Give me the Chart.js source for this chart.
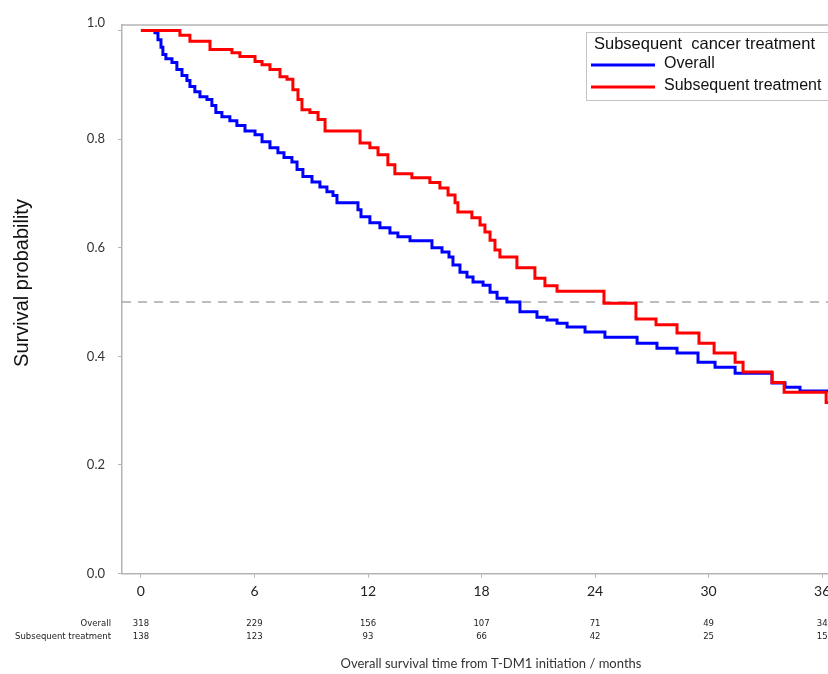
<!DOCTYPE html>
<html>
<head>
<meta charset="utf-8">
<script src="https://cdn.jsdelivr.net/npm/chart.js@4"></script>
<style>
  html, body { margin: 0; padding: 0; background: #fff; overflow: hidden; }
  canvas { display: block; }
</style>
</head>
<body>
<canvas id="km" width="860" height="674"></canvas>
<script>
// Kaplan-Meier steps: time of drop (months) and survival after the drop
const overallTimes = [0, 0.74, 0.90, 1.06, 1.16, 1.32, 1.64, 1.90, 2.17, 2.43, 2.59, 2.85, 3.12, 3.49, 3.75, 3.96, 4.28, 4.70, 5.07, 5.50, 6.03, 6.40, 6.82, 7.24, 7.56, 7.98, 8.25, 8.56, 9.04, 9.46, 9.83, 10.15, 10.36, 11.47, 11.63, 12.10, 12.63, 13.16, 13.58, 14.22, 15.38, 15.91, 16.28, 16.49, 16.86, 17.23, 17.55, 18.08, 18.45, 18.82, 19.34, 20.03, 20.93, 21.46, 21.99, 22.52, 23.47, 24.52, 26.22, 27.27, 28.33, 29.44, 30.34, 31.40, 33.35, 34.04, 34.83, 38];
const overallSurv = [1.0, 0.996, 0.983, 0.969, 0.956, 0.948, 0.941, 0.928, 0.917, 0.908, 0.897, 0.887, 0.878, 0.873, 0.862, 0.849, 0.841, 0.834, 0.825, 0.815, 0.808, 0.795, 0.784, 0.775, 0.766, 0.758, 0.744, 0.731, 0.721, 0.712, 0.703, 0.696, 0.683, 0.670, 0.657, 0.646, 0.637, 0.627, 0.620, 0.613, 0.600, 0.592, 0.583, 0.568, 0.555, 0.546, 0.537, 0.531, 0.518, 0.507, 0.500, 0.482, 0.472, 0.467, 0.461, 0.454, 0.445, 0.435, 0.424, 0.415, 0.406, 0.389, 0.380, 0.369, 0.351, 0.343, 0.336, 0.336];

const subsequentTimes = [0, 2.06, 2.59, 3.65, 4.81, 5.23, 6.03, 6.40, 6.82, 7.35, 7.72, 8.03, 8.30, 8.51, 8.93, 9.36, 9.73, 11.58, 12.10, 12.53, 13.05, 13.42, 14.32, 15.27, 15.80, 16.23, 16.60, 16.75, 17.49, 17.92, 18.18, 18.45, 18.71, 18.97, 19.87, 20.82, 21.35, 21.99, 24.47, 26.16, 27.22, 28.33, 29.49, 30.29, 31.40, 31.82, 33.35, 33.99, 36.21, 38];
const subsequentSurv = [1.0, 0.991, 0.980, 0.965, 0.959, 0.952, 0.943, 0.937, 0.928, 0.915, 0.910, 0.891, 0.873, 0.854, 0.849, 0.836, 0.815, 0.793, 0.784, 0.771, 0.753, 0.736, 0.729, 0.720, 0.710, 0.697, 0.683, 0.666, 0.655, 0.642, 0.629, 0.614, 0.596, 0.583, 0.563, 0.544, 0.530, 0.520, 0.498, 0.469, 0.458, 0.443, 0.424, 0.406, 0.389, 0.371, 0.352, 0.334, 0.315, 0.315];

const xTicks = [0, 6, 12, 18, 24, 30, 36];
const yTicks = [0, 0.2, 0.4, 0.6, 0.8, 1.0];
const medianLevel = 0.5;

const riskRows = ["Overall", "Subsequent treatment"];
const atRiskOverall = [318, 229, 156, 107, 71, 49, 34];
const atRiskSubsequent = [138, 123, 93, 66, 42, 25, 15];

function toPoints(times, surv) {
    return times.map((t, i) => ({ x: t, y: surv[i] }));
}

const extras = {
    id: "extras",
    afterDraw(chart) {
        const ctx = chart.ctx;
        const area = chart.chartArea;
        const x = chart.scales.x;

        // top frame line
        ctx.save();
        ctx.strokeStyle = "#b4b4b4";
        ctx.lineWidth = 1.5;
        ctx.beginPath();
        ctx.moveTo(area.left, area.top);
        ctx.lineTo(area.right, area.top);
        ctx.stroke();

        // y title
        ctx.fillStyle = "#111";
        ctx.font = "20px 'Liberation Sans', Arial, sans-serif";
        ctx.textAlign = "center";
        ctx.textBaseline = "middle";
        ctx.translate(22, 283);
        ctx.rotate(-Math.PI / 2);
        ctx.fillText("Survival probability", 0, 0);
        ctx.restore();

        // numbers at risk
        ctx.save();
        ctx.fillStyle = "#222";
        ctx.font = "8.5px 'DejaVu Sans', sans-serif";
        ctx.textBaseline = "middle";
        const rows = [atRiskOverall, atRiskSubsequent];
        rows.forEach((vals, r) => {
            const y = area.bottom + 50 + r * 13;
            ctx.textAlign = "right";
            ctx.fillText(riskRows[r], area.left - 11, y);
            ctx.textAlign = "center";
            vals.forEach((v, i) => {
                ctx.fillText(String(v), x.getPixelForValue(xTicks[i]), y);
            });
        });
        ctx.restore();

        // legend box
        const bx = 586, by = 32;
        ctx.save();
        ctx.fillStyle = "#fff";
        ctx.fillRect(bx, by, 320, 68);
        ctx.strokeStyle = "#c4c4c4";
        ctx.lineWidth = 1;
        ctx.strokeRect(bx + 0.5, by + 0.5, 320, 68);
        ctx.fillStyle = "#111";
        ctx.textBaseline = "middle";
        ctx.textAlign = "left";
        ctx.font = "16.5px 'Liberation Sans', Arial, sans-serif";
        ctx.fillText("Subsequent  cancer treatment", bx + 8, by + 12);
        ctx.font = "16px 'Liberation Sans', Arial, sans-serif";
        const shown = chart.data.datasets.filter(d => d.inLegend);
        shown.forEach((d, i) => {
            const ly = by + 33 + i * 22;
            ctx.strokeStyle = d.borderColor;
            ctx.lineWidth = 3;
            ctx.beginPath();
            ctx.moveTo(bx + 5, ly);
            ctx.lineTo(bx + 69, ly);
            ctx.stroke();
            ctx.fillStyle = "#111";
            ctx.fillText(d.label, bx + 78, ly - 1);
        });
        ctx.restore();
    }
};

let grafica = document.getElementById("km").getContext("2d");

var chart = new Chart(grafica, {
    type: "line",
    data: {
        datasets: [
            {
                label: "Overall",
                inLegend: true,
                data: toPoints(overallTimes, overallSurv),
                borderColor: "rgb(0,0,255)",
                borderWidth: 3,
                stepped: "before",
                pointRadius: 0,
                order: 1
            },
            {
                label: "Subsequent treatment",
                inLegend: true,
                data: toPoints(subsequentTimes, subsequentSurv),
                borderColor: "rgb(255,0,0)",
                borderWidth: 3,
                stepped: "before",
                pointRadius: 0,
                order: 0
            },
            {
                label: "median",
                inLegend: false,
                data: [{ x: -1, y: medianLevel }, { x: 38, y: medianLevel }],
                borderColor: "#a8a8a8",
                borderWidth: 1.5,
                borderDash: [9, 7],
                pointRadius: 0,
                order: 2
            }
        ]
    },
    options: {
        responsive: false,
        animation: false,
        layout: { padding: { top: 25, left: 0, right: 0, bottom: 0 } },
        plugins: {
            legend: { display: false },
            tooltip: { enabled: false }
        },
        scales: {
            x: {
                type: "linear",
                min: -1,
                max: 38,
                afterBuildTicks: s => { s.ticks = xTicks.map(v => ({ value: v })); },
                grid: { drawOnChartArea: false, drawTicks: true, tickLength: 4, color: "#b4b4b4" },
                border: { color: "#b4b4b4", width: 1.5 },
                ticks: {
                    padding: 5,
                    color: "#222",
                    font: { family: "Lato, 'Open Sans', sans-serif", size: 14 }
                },
                title: {
                    display: true,
                    text: "Overall survival time from T-DM1 initiation / months",
                    color: "#333",
                    font: { family: "Lato, 'Open Sans', sans-serif", size: 13 },
                    padding: { top: 52, bottom: 2 }
                }
            },
            y: {
                min: 0,
                max: 1.0101,
                afterBuildTicks: s => { s.ticks = yTicks.map(v => ({ value: v })); },
                afterFit: s => { s.width = 122; s.paddingTop = 0; },
                grid: { drawOnChartArea: false, drawTicks: true, tickLength: 4, color: "#b4b4b4" },
                border: { color: "#b4b4b4", width: 1.5 },
                ticks: {
                    padding: 13,
                    color: "#333",
                    font: { family: "Lato, 'Open Sans', sans-serif", size: 13 },
                    callback: v => (v === 1 ? ["1.0", ""] : v.toFixed(1))
                }
            }
        }
    },
    plugins: [extras]
});
</script>
</body>
</html>
